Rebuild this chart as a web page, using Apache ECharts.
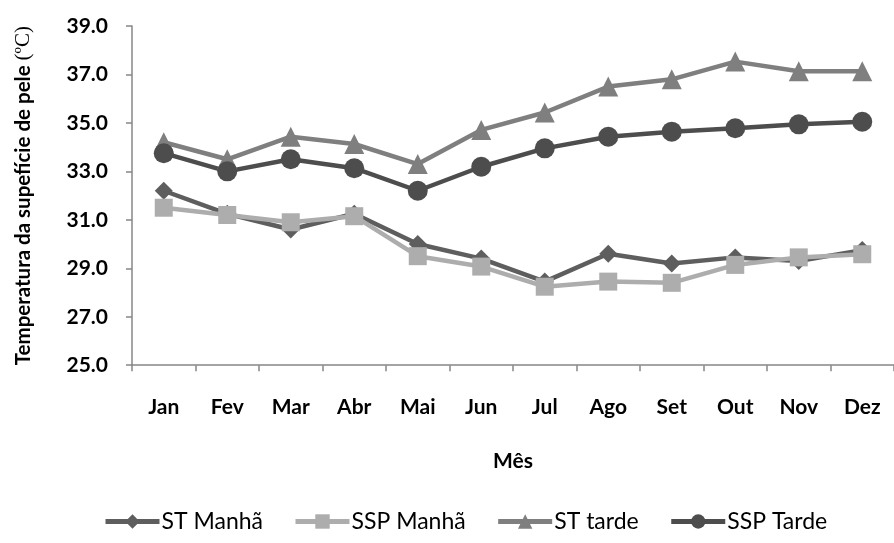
<!DOCTYPE html>
<html>
<head>
<meta charset="utf-8">
<script src="https://cdn.jsdelivr.net/npm/echarts@6/dist/echarts.min.js"></script>
<style>
  html, body { margin: 0; padding: 0; background: #fff; }
  #chart { width: 894px; height: 543px; }
</style>
</head>
<body>
<div id="chart"></div>
<script>
// Monthly skin surface temperature (°C)
const months = ['Jan', 'Fev', 'Mar', 'Abr', 'Mai', 'Jun', 'Jul', 'Ago', 'Set', 'Out', 'Nov', 'Dez'];
const stManha  = [32.2, 31.25, 30.6, 31.25, 30.0, 29.4, 28.45, 29.6, 29.2, 29.45, 29.3, 29.75];
const sspManha = [31.5, 31.2, 30.9, 31.15, 29.5, 29.07, 28.24, 28.45, 28.4, 29.14, 29.45, 29.58];
const stTarde  = [34.2, 33.5, 34.43, 34.13, 33.3, 34.71, 35.43, 36.5, 36.8, 37.53, 37.13, 37.13];
const sspTarde = [33.75, 33.0, 33.5, 33.13, 32.2, 33.19, 33.95, 34.43, 34.64, 34.78, 34.94, 35.05];
const yTicks = [25, 27, 29, 31, 33, 35, 37, 39];

const FONT = 'Lato';
const axisGrey = '#878787';

function line(name, data, color, symbol, size) {
  return {
    name: name,
    type: 'line',
    data: data,
    symbol: symbol,
    symbolSize: size,
    lineStyle: { color: color, width: 4.5 },
    itemStyle: { color: color },
    emphasis: { disabled: true },
    animation: false
  };
}

const chart = echarts.init(document.getElementById('chart'));
chart.setOption({
  backgroundColor: '#ffffff',
  textStyle: { fontFamily: FONT },
  grid: { left: 132, top: 26, width: 771.6, height: 339.2, containLabel: false },
  xAxis: {
    type: 'category',
    data: months,
    boundaryGap: true,
    name: 'Mês',
    nameLocation: 'middle',
    nameGap: 86,
    nameTextStyle: { fontFamily: FONT, fontWeight: 'bold', fontSize: 21, color: '#000' },
    axisLine: { lineStyle: { color: axisGrey, width: 1.5 } },
    axisTick: { show: true, length: 6, alignWithLabel: false, lineStyle: { color: axisGrey, width: 1.5 } },
    axisLabel: { margin: 32, fontFamily: FONT, fontWeight: 'bold', fontSize: 21, color: '#000', interval: 0 },
    splitLine: { show: false }
  },
  yAxis: {
    type: 'value',
    min: yTicks[0],
    max: yTicks[yTicks.length - 1],
    interval: 2,
    name: 'Temperatura da supefície de pele {u|(ºC)}',
    nameLocation: 'middle',
    nameGap: 98,
    nameRotate: 90,
    nameTextStyle: {
      fontFamily: FONT, fontWeight: 'bold', fontSize: 20.5, color: '#000',
      rich: { u: { fontFamily: 'Liberation Serif', fontWeight: 'normal', fontSize: 21, color: '#000' } }
    },
    axisLine: { show: true, lineStyle: { color: axisGrey, width: 1.5 } },
    axisTick: { show: true, length: 6, lineStyle: { color: axisGrey, width: 1.5 } },
    axisLabel: {
      margin: 24, fontFamily: FONT, fontWeight: 'bold', fontSize: 21, color: '#000',
      formatter: v => v.toFixed(1)
    },
    splitLine: { show: false }
  },
  legend: {
    bottom: 5,
    left: 98,
    itemWidth: 54,
    itemHeight: 18,
    itemGap: 30,
    lineStyle: { width: 5 },
    textStyle: { fontFamily: FONT, fontSize: 23, color: '#000', padding: [0, 0, 0, -3] },
    data: ['ST Manhã', 'SSP Manhã', 'ST tarde', 'SSP Tarde']
  },
  series: [
    line('ST Manhã', stManha, '#5e5e5e', 'diamond', 18),
    line('SSP Manhã', sspManha, '#adadad', 'rect', 18),
    line('ST tarde', stTarde, '#7f7f7f', 'triangle', 20),
    line('SSP Tarde', sspTarde, '#4d4d4d', 'circle', 20)
  ]
});
</script>
</body>
</html>
